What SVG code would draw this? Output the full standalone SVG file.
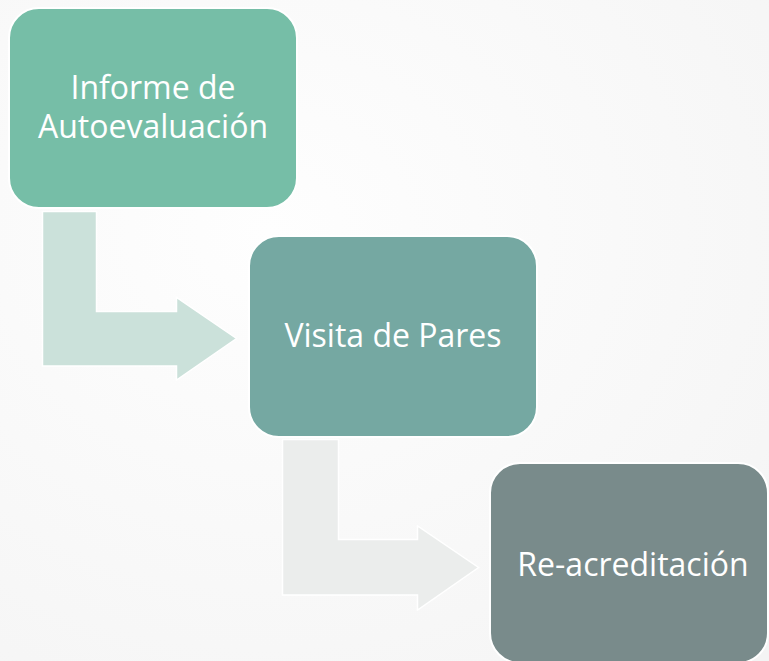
<svg xmlns="http://www.w3.org/2000/svg" width="769" height="661" viewBox="0 0 769 661">
  <defs>
    <radialGradient id="bg" cx="0.35" cy="0.35" r="0.9">
      <stop offset="0" stop-color="#FEFEFE"/>
      <stop offset="1" stop-color="#F4F4F4"/>
    </radialGradient>
  </defs>
  <style>
    .box { stroke: #FFFFFF; stroke-width: 2; }
    .arrow { stroke: #FFFFFF; stroke-width: 1.5; stroke-linejoin: miter; }
    .label { font-family: "Open Sans", "Liberation Sans", sans-serif; font-size: 32px; fill: #FFFFFF; text-anchor: middle; }
  </style>
  <rect x="0" y="0" width="769" height="661" fill="url(#bg)"/>
  <g id="connectors">
    <path class="arrow" fill="#CBE1DA" d="M42.5,211.5 H96.5 V311.5 H176.5 V297.5 L236.5,338.5 L176.5,380 V366 H42.5 Z"/>
    <path class="arrow" fill="#EBEDEC" d="M282.5,439.5 H338.5 V539.5 H417.5 V526 L478.5,567.5 L417.5,610 V595 H282.5 Z"/>
  </g>
  <g id="node-informe">
    <rect class="box" x="9" y="8" width="288" height="200" rx="30" ry="30" fill="#76BEA7"/>
    <text class="label" x="153" y="99">Informe de</text>
    <text class="label" x="153" y="138">Autoevaluación</text>
  </g>
  <g id="node-visita">
    <rect class="box" x="249" y="236" width="288" height="201" rx="30" ry="30" fill="#75A8A2"/>
    <text class="label" x="393" y="347">Visita de Pares</text>
  </g>
  <g id="node-reacreditacion">
    <rect class="box" x="490" y="463" width="278" height="200" rx="30" ry="30" fill="#798B8B"/>
    <text class="label" x="633" y="576">Re-acreditación</text>
  </g>
</svg>
